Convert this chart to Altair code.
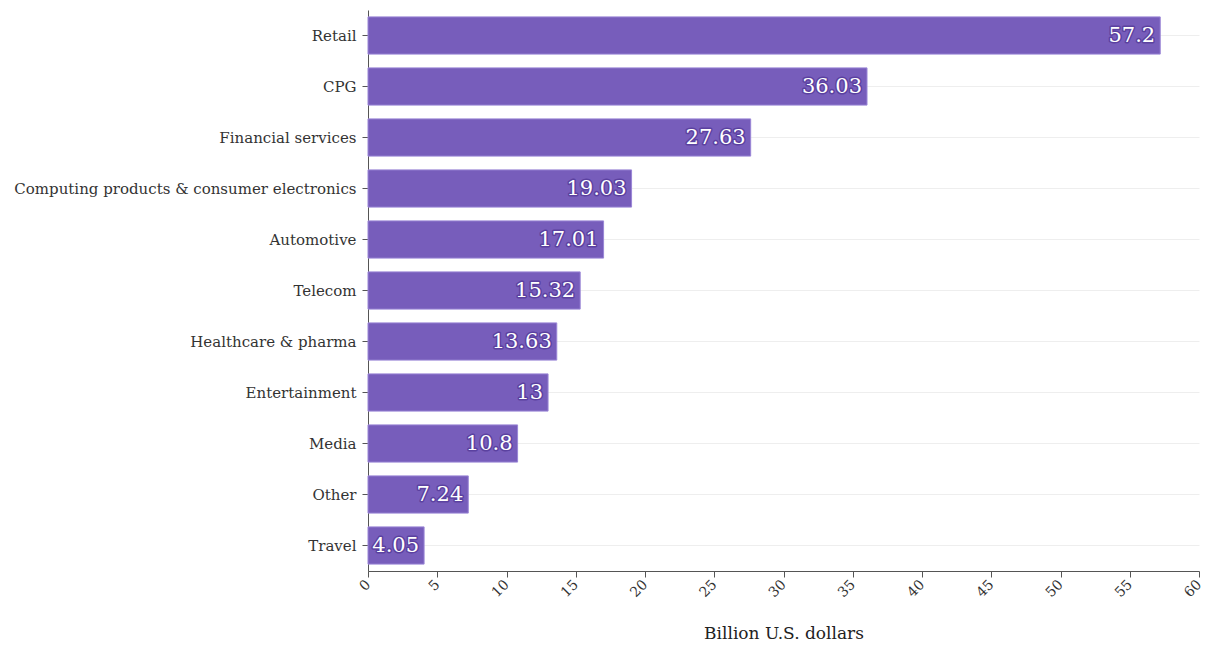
import altair as alt
import pandas as pd

categories = ["Retail", "CPG", "Financial services", "Computing products & consumer electronics",
              "Automotive", "Telecom", "Healthcare & pharma", "Entertainment", "Media", "Other", "Travel"]
values = [57.2, 36.03, 27.63, 19.03, 17.01, 15.32, 13.63, 13, 10.8, 7.24, 4.05]
labels = ["57.2", "36.03", "27.63", "19.03", "17.01", "15.32", "13.63", "13", "10.8", "7.24", "4.05"]

df = pd.DataFrame({"category": categories, "value": values, "label": labels})

FONT = "DejaVu Serif"
COLOR = "#775DBB"

y = alt.Y("category:N", sort=categories, title=None,
          scale=alt.Scale(paddingInner=0.27, paddingOuter=0.135),
          axis=alt.Axis(labelFontSize=15, labelColor="#333", labelFont=FONT, grid=True,
                        gridColor="#eeeeee", domainColor="#555", tickColor="#555",
                        labelPadding=6, tickSize=6, labelLimit=500))
x = alt.X("value:Q", title="Billion U.S. dollars",
          scale=alt.Scale(domain=[0, 60], nice=False),
          axis=alt.Axis(values=list(range(0, 61, 5)), labelAngle=-45, labelFontSize=14, labelFont=FONT,
                        labelColor="#333", grid=False, domainColor="#555", tickColor="#555",
                        tickSize=6, labelPadding=5,
                        titleFont=FONT, titleFontSize=17, titleFontWeight="normal", titleColor="#222",
                        titlePadding=26, labelAlign="right", labelBaseline="middle"))

bars = alt.Chart(df).mark_bar(color=COLOR, stroke="#9a86d6", strokeWidth=1).encode(x=x, y=y)

halo = alt.Chart(df).mark_text(align="right", baseline="middle", dx=-5, font=FONT, fontSize=21,
                               fill="#5b41a0", stroke="#5b41a0", strokeWidth=3,
                               strokeJoin="round").encode(
    x="value:Q", y=alt.Y("category:N", sort=categories), text="label:N")
txt = alt.Chart(df).mark_text(align="right", baseline="middle", dx=-5, font=FONT, fontSize=21,
                              color="white").encode(
    x="value:Q", y=alt.Y("category:N", sort=categories), text="label:N")

chart = (bars + halo + txt).properties(
    width=831, height=561,
    background="white",
    autosize=alt.AutoSizeParams(type="none"),
    padding={"left": 368, "top": 10, "right": 7, "bottom": 77},
).configure_view(strokeWidth=0, stroke="transparent")

chart.save("out.html", embed_options={"renderer": "svg", "actions": False})
